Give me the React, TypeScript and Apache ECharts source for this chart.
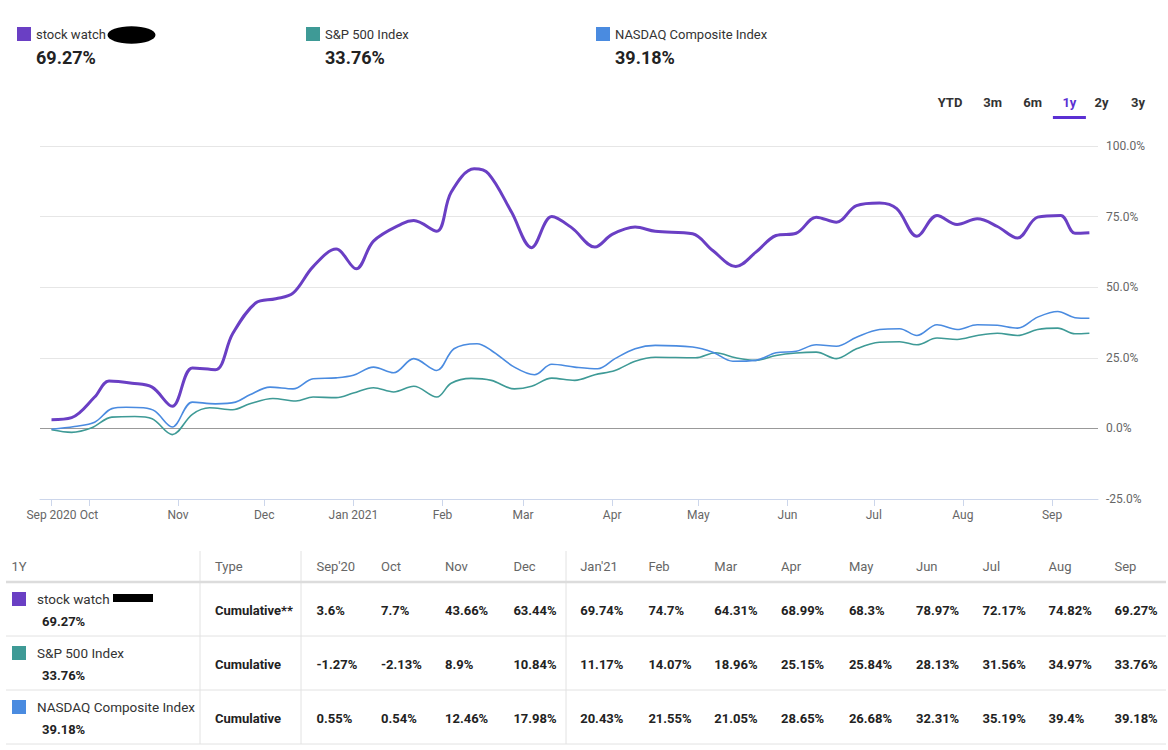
import React, { useEffect, useRef } from 'react';
import * as echarts from 'echarts';

const FONT = 'Roboto, "Noto Sans", sans-serif';

const seriesNames = ['stock watch', 'S&P 500 Index', 'NASDAQ Composite Index'];
const seriesTotals = [69.27, 33.76, 39.18];
const seriesColors = ['#6a3fc4', '#3e9a96', '#4a8be0'];

const stockWatch: [string, number][] = [
  ['2020-09-18', 3.1], ['2020-09-25', 3.8], ['2020-10-03', 11.1], ['2020-10-08', 16.8],
  ['2020-10-16', 16.0], ['2020-10-23', 14.6], ['2020-10-30', 7.8], ['2020-11-06', 21.4],
  ['2020-11-14', 20.8], ['2020-11-20', 33.5], ['2020-11-28', 44.4], ['2020-12-05', 45.9],
  ['2020-12-11', 47.9], ['2020-12-18', 57.3], ['2020-12-26', 63.5], ['2021-01-02', 56.5],
  ['2021-01-08', 66.3], ['2021-01-18', 72.5], ['2021-01-22', 73.6], ['2021-01-30', 69.8],
  ['2021-02-04', 83.6], ['2021-02-12', 91.9], ['2021-02-17', 90.2], ['2021-02-25', 76.6],
  ['2021-03-04', 64.0], ['2021-03-11', 75.0], ['2021-03-18', 71.0], ['2021-03-26', 64.2],
  ['2021-04-01', 68.7], ['2021-04-09', 71.3], ['2021-04-16', 69.8], ['2021-04-29', 68.9],
  ['2021-05-06', 63.0], ['2021-05-14', 57.3], ['2021-05-21', 62.4], ['2021-05-28', 68.3],
  ['2021-06-04', 69.1], ['2021-06-11', 74.8], ['2021-06-18', 73.0], ['2021-06-25', 78.9],
  ['2021-07-03', 79.8], ['2021-07-09', 77.8], ['2021-07-16', 68.0], ['2021-07-23', 75.4],
  ['2021-07-30', 72.2], ['2021-08-06', 74.2], ['2021-08-13', 71.5], ['2021-08-20', 67.4],
  ['2021-08-27', 74.8], ['2021-09-04', 75.4], ['2021-09-09', 69.1], ['2021-09-14', 69.3],
];

const sp500: [string, number][] = [
  ['2020-09-18', -0.5], ['2020-09-25', -1.4], ['2020-10-02', 0.2], ['2020-10-09', 4.0],
  ['2020-10-17', 4.2], ['2020-10-23', 3.4], ['2020-10-30', -2.2], ['2020-11-06', 5.0],
  ['2020-11-12', 7.3], ['2020-11-20', 6.6], ['2020-11-26', 8.7], ['2020-12-04', 10.6],
  ['2020-12-12', 9.7], ['2020-12-18', 11.1], ['2020-12-26', 10.9], ['2021-01-01', 12.5],
  ['2021-01-08', 14.4], ['2021-01-15', 12.9], ['2021-01-22', 14.9], ['2021-01-30', 11.1],
  ['2021-02-04', 16.0], ['2021-02-11', 17.7], ['2021-02-18', 17.0], ['2021-02-26', 14.0],
  ['2021-03-04', 14.9], ['2021-03-11', 17.8], ['2021-03-19', 17.0], ['2021-03-26', 19.0],
  ['2021-04-02', 20.5], ['2021-04-09', 23.8], ['2021-04-16', 25.2], ['2021-04-30', 25.0],
  ['2021-05-07', 26.8], ['2021-05-14', 25.0], ['2021-05-21', 24.1], ['2021-05-28', 25.8],
  ['2021-06-04', 26.7], ['2021-06-11', 27.0], ['2021-06-18', 24.7], ['2021-06-25', 28.2],
  ['2021-07-03', 30.5], ['2021-07-10', 30.7], ['2021-07-16', 29.6], ['2021-07-23', 32.0],
  ['2021-07-30', 31.5], ['2021-08-06', 32.9], ['2021-08-13', 33.7], ['2021-08-20', 32.9],
  ['2021-08-27', 35.0], ['2021-09-03', 35.5], ['2021-09-09', 33.5], ['2021-09-14', 33.7],
];

const nasdaq: [string, number][] = [
  ['2020-09-18', -0.3], ['2020-09-26', 0.7], ['2020-10-03', 2.2], ['2020-10-09', 7.0],
  ['2020-10-14', 7.5], ['2020-10-20', 7.3], ['2020-10-24', 6.1], ['2020-10-30', 0.5],
  ['2020-11-06', 9.3], ['2020-11-14', 8.7], ['2020-11-21', 9.3], ['2020-11-26', 11.9],
  ['2020-12-03', 14.6], ['2020-12-11', 14.0], ['2020-12-18', 17.6], ['2020-12-26', 17.9],
  ['2021-01-01', 18.8], ['2021-01-08', 21.7], ['2021-01-15', 19.7], ['2021-01-22', 24.7],
  ['2021-01-30', 20.5], ['2021-02-05', 28.2], ['2021-02-13', 30.0], ['2021-02-18', 27.6],
  ['2021-02-26', 21.7], ['2021-03-05', 19.0], ['2021-03-11', 22.7], ['2021-03-19', 21.7],
  ['2021-03-27', 21.1], ['2021-04-02', 24.7], ['2021-04-09', 28.2], ['2021-04-16', 29.4],
  ['2021-04-29', 28.8], ['2021-05-06', 27.0], ['2021-05-13', 23.8], ['2021-05-21', 24.1],
  ['2021-05-28', 26.8], ['2021-06-04', 27.3], ['2021-06-11', 29.6], ['2021-06-18', 29.1],
  ['2021-06-25', 32.3], ['2021-07-03', 35.0], ['2021-07-10', 35.3], ['2021-07-16', 32.9],
  ['2021-07-23', 36.7], ['2021-07-30', 35.0], ['2021-08-06', 36.7], ['2021-08-13', 36.5],
  ['2021-08-20', 35.5], ['2021-08-27', 39.4], ['2021-09-03', 41.4], ['2021-09-09', 39.2],
  ['2021-09-14', 39.0],
];

const axisStart = '2020-09-14';
const axisEnd = '2021-09-17';
const xTickDates = [
  '2020-09-18', '2020-10-01', '2020-11-01', '2020-12-01', '2021-01-01', '2021-02-01', '2021-03-01',
  '2021-04-01', '2021-05-01', '2021-06-01', '2021-07-01', '2021-08-01', '2021-09-01',
];
const xTickLabels = ['Sep 2020', 'Oct', 'Nov', 'Dec', 'Jan 2021', 'Feb', 'Mar', 'Apr', 'May', 'Jun', 'Jul', 'Aug', 'Sep'];

const rangeTabs = ['YTD', '3m', '6m', '1y', '2y', '3y'];
const activeTab = '1y';

const tableCorner = '1Y';
const tableTypeHeader = 'Type';
const tableMonths = ["Sep'20", 'Oct', 'Nov', 'Dec', "Jan'21", 'Feb', 'Mar', 'Apr', 'May', 'Jun', 'Jul', 'Aug', 'Sep'];
const tableTypes = ['Cumulative**', 'Cumulative', 'Cumulative'];
const stockWatchMonthly = [3.6, 7.7, 43.66, 63.44, 69.74, 74.7, 64.31, 68.99, 68.3, 78.97, 72.17, 74.82, 69.27];
const sp500Monthly = [-1.27, -2.13, 8.9, 10.84, 11.17, 14.07, 18.96, 25.15, 25.84, 28.13, 31.56, 34.97, 33.76];
const nasdaqMonthly = [0.55, 0.54, 12.46, 17.98, 20.43, 21.55, 21.05, 28.65, 26.68, 32.31, 35.19, 39.4, 39.18];

function parseDay(s: string): number {
  const [y, m, d] = s.split('-').map(Number);
  return Date.UTC(y, m - 1, d);
}

function font(size: number, weight: string | number = 'normal') {
  return `${weight} ${size}px ${FONT}`;
}

function text(str: string, x: number, y: number, size: number, fill: string, weight: string | number = 'normal', align = 'left') {
  return {
    type: 'text',
    x,
    y,
    silent: true,
    style: { text: str, fill, font: font(size, weight), textAlign: align, textVerticalAlign: 'middle' },
  };
}

function rect(x: number, y: number, w: number, h: number, fill: string) {
  return { type: 'rect', silent: true, shape: { x, y, width: w, height: h }, style: { fill } };
}

function hline(x1: number, x2: number, y: number, stroke: string, lw = 1) {
  return { type: 'line', silent: true, shape: { x1, y1: y, x2, y2: y }, style: { stroke, lineWidth: lw } };
}

function vline(x: number, y1: number, y2: number, stroke: string, lw = 1) {
  return { type: 'line', silent: true, shape: { x1: x, y1, x2: x, y2 }, style: { stroke, lineWidth: lw } };
}

function buildGraphic() {
  const g: any[] = [];
  const legendX = [17, 306, 596];
  seriesNames.forEach((name, i) => {
    g.push(rect(legendX[i], 27, 14, 14, seriesColors[i]));
    g.push(text(name, legendX[i] + 19, 34, 13, '#333'));
    g.push(text(seriesTotals[i] + '%', legendX[i] + 19, 57, 18, '#222', 'bold'));
  });
  g.push({ type: 'ellipse', silent: true, shape: { cx: 131.5, cy: 35, rx: 24, ry: 8.7 }, style: { fill: '#000' } });

  const tabX = [950, 992.7, 1032.7, 1069.4, 1101.5, 1138];
  rangeTabs.forEach((t, i) => {
    g.push(text(t, tabX[i], 102.5, 13, t === activeTab ? '#5b30d3' : '#333', 'bold', 'center'));
  });
  const ai = rangeTabs.indexOf(activeTab);
  g.push(rect(tabX[ai] - 16.5, 116, 33, 3, '#5b30d3'));

  const tableLeft = 6;
  const tableRight = 1166;
  const colX = [316.5, 381, 445, 513.4, 580.2, 648.4, 714.3, 781, 848.9, 916, 982.6, 1048.6, 1114.5];
  const headerY = 566.5;
  g.push(text(tableCorner, 11.5, headerY, 13, '#666'));
  g.push(text(tableTypeHeader, 215, headerY, 13, '#666'));
  tableMonths.forEach((m, i) => g.push(text(m, colX[i], headerY, 13, '#666')));
  [200, 301, 566].forEach((x) => g.push(vline(x, 551, 744, '#e2e2e2')));
  g.push(hline(tableLeft, tableRight, 582, '#dcdcdc', 2.5));
  const rowTops = [582, 636, 690];
  const rowData = [stockWatchMonthly, sp500Monthly, nasdaqMonthly];
  rowTops.forEach((top, r) => {
    g.push(hline(tableLeft, tableRight, top + 54, '#e2e2e2', 1));
    g.push(rect(12, top + 10, 14, 14, seriesColors[r]));
    g.push(text(seriesNames[r], 37, top + 16.5, 13.5, '#333'));
    g.push(text(seriesTotals[r] + '%', 42, top + 39.5, 13, '#222', 'bold'));
    g.push(text(tableTypes[r], 215, top + 28.5, 13, '#222', 'bold'));
    rowData[r].forEach((v, i) => g.push(text(v + '%', colX[i], top + 28.5, 13, '#222', 'bold')));
  });
  g.push(rect(113, 594, 40, 8, '#000'));
  return g;
}

export default function App() {
  const ref = useRef<HTMLDivElement>(null);
  useEffect(() => {
    if (!ref.current) return;
    const chart = echarts.init(ref.current, null, { renderer: 'svg' });
    const tickTs = xTickDates.map(parseDay);
    const labelFor = (v: number) => {
      let best = 0;
      let bd = Infinity;
      tickTs.forEach((t, i) => {
        const d = Math.abs(t - v);
        if (d < bd) { bd = d; best = i; }
      });
      return xTickLabels[best];
    };
    const toData = (arr: [string, number][]) => arr.map(([d, v]) => [parseDay(d), v]);
    const datasets = [stockWatch, sp500, nasdaq];
    const option: any = {
      animation: false,
      textStyle: { fontFamily: FONT },
      grid: { left: 40, right: 70, top: 146, bottom: 251, containLabel: false },
      xAxis: {
        type: 'value',
        min: parseDay(axisStart),
        max: parseDay(axisEnd),
        axisLine: { onZero: false, lineStyle: { color: '#ccd6eb', width: 1 } },
        axisTick: { show: true, customValues: tickTs, length: 7, lineStyle: { color: '#ccd6eb' } },
        axisLabel: {
          customValues: tickTs,
          formatter: (v: number) => labelFor(v),
          color: '#666',
          fontSize: 12,
          fontFamily: FONT,
          margin: 10,
          hideOverlap: false,
          showMinLabel: true,
          showMaxLabel: true,
        },
        splitLine: { show: false },
      },
      yAxis: {
        type: 'value',
        position: 'right',
        min: -25,
        max: 100,
        interval: 25,
        axisLine: { show: false },
        axisTick: { show: false },
        axisLabel: {
          formatter: (v: number) => v.toFixed(1) + '%',
          color: '#666',
          fontSize: 12,
          fontFamily: FONT,
          margin: 8,
        },
        splitLine: {
          lineStyle: { color: ['#e6e6e6', '#999999', '#e6e6e6', '#e6e6e6', '#e6e6e6', '#e6e6e6'], width: 1 },
        },
      },
      series: datasets.map((arr, i) => ({
        name: seriesNames[i],
        type: 'line',
        data: toData(arr),
        smooth: 0.35,
        showSymbol: false,
        symbol: 'none',
        lineStyle: { color: seriesColors[i], width: i === 0 ? 3 : 1.6 },
        itemStyle: { color: seriesColors[i] },
        z: i === 0 ? 4 : 3,
      })),
      graphic: buildGraphic(),
    };
    chart.setOption(option);
    return () => chart.dispose();
  }, []);
  return (
    <div style={{ position: 'absolute', left: 0, top: 0, width: 1168, height: 750, background: '#fff' }}>
      <div ref={ref} style={{ width: 1168, height: 750 }} />
    </div>
  );
}
